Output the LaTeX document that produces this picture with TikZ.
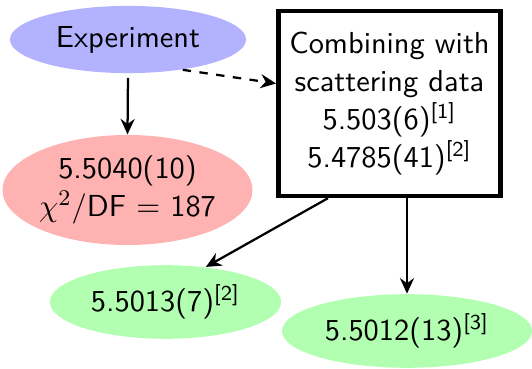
\documentclass[tikz,border=0pt]{standalone}
\usepackage{amsmath}
\usepackage{tikz}
\usetikzlibrary{shapes.geometric, arrows.meta, positioning}
\renewcommand{\familydefault}{\sfdefault}

\begin{document}
\begin{tikzpicture}[x=0.0125cm, y=-0.0125cm,
            blob/.style={ellipse, inner sep=0pt, align=center, font=\fontsize{10.8}{13.3}\selectfont},
            source/.style={blob, fill=blue!30, minimum width=2.95cm, minimum height=0.84cm},
            bad/.style={blob, fill=red!30, minimum width=3.09cm, minimum height=1.375cm},
            good/.style={blob, fill=green!30, minimum width=2.95cm, minimum height=0.92cm},
            combo/.style={draw, line width=1.6pt, inner sep=0pt, align=center, minimum width=2.78cm, minimum height=2.31cm, font=\fontsize{10.8}{13.6}\selectfont},
            link/.style={thick, -{Stealth[length=5.5pt, width=5pt]}}
        ]
        \useasboundingbox (0,0) rectangle (532,369);

        % The nodes
        \node[source] (exp) at (128,39.5) {Experiment};
        \node[bad] (fit) at (127.5,190) {5.5040(10)\\$\chi^2$/DF $=$ 187};
        \node[combo] (comb) at (389.5,103.5) {Combining with\\scattering data\\5.503(6)\textsuperscript{[1]}\\5.4785(41)\textsuperscript{[2]}};
        \node[good, minimum width=2.89cm] (resA) at (165.5,302) {5.5013(7)\textsuperscript{[2]}};
        \node[good, minimum width=3.125cm] (resB) at (407,331) {5.5012(13)\textsuperscript{[3]}};

        % Arrows
        \draw[link, shorten <=1.5pt] (exp.south) -- (fit.north);
        \draw[link, dashed] (exp.-29) -- (comb.170);
        \draw[link] (comb.237) -- (resA.41);
        \draw[link] (resB.north |- comb.south) -- (resB.north);

        \end{tikzpicture}
\end{document}
